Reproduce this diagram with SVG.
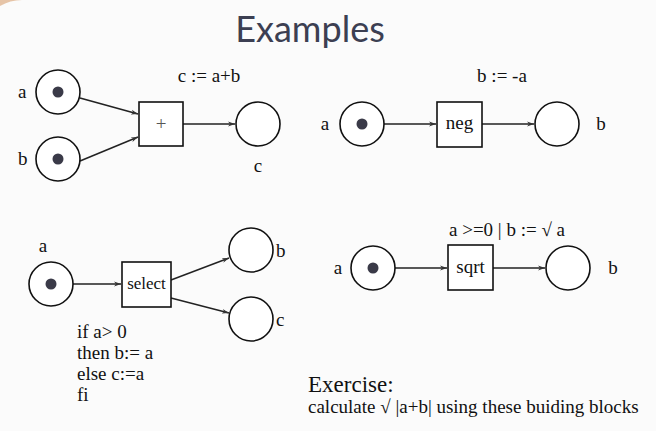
<svg xmlns="http://www.w3.org/2000/svg" width="656" height="431" viewBox="0 0 656 431">
<defs>
<style>
.pl{fill:#fff;stroke:#111;stroke-width:1.6}
.tk{fill:#3a3a48}
.tr{fill:#fff;stroke:#111;stroke-width:1.6}
.e{stroke:#222;stroke-width:1.5;fill:none;marker-end:url(#ah)}
</style>
<marker id="ah" viewBox="0 0 10 10" refX="10" refY="5" markerWidth="7" markerHeight="7" orient="auto" markerUnits="userSpaceOnUse">
<path d="M0,1.5 L10,5 L0,8.5 L3,5 Z" fill="#333"/>
</marker>
</defs>
<rect width="656" height="431" fill="#fbfbfb"/>
<path d="M0,6 Q10,0 22,0 L0,0 Z" fill="#d9a070" opacity="0.6"/>
<text x="310" y="42" text-anchor="middle" font-family="Lato" font-size="36" fill="#3c3f52">Examples</text>

<g id="connectors">
<line class="e" x1="80" y1="98" x2="138" y2="114"/>
<line class="e" x1="80" y1="161" x2="138" y2="137"/>
<line class="e" x1="183" y1="124" x2="235" y2="124"/>
<line class="e" x1="384" y1="124" x2="436" y2="124"/>
<line class="e" x1="482" y1="124" x2="534" y2="124"/>
<line class="e" x1="73" y1="284" x2="121" y2="284"/>
<line class="e" x1="171" y1="280" x2="229" y2="258"/>
<line class="e" x1="171" y1="298" x2="229" y2="313"/>
<line class="e" x1="395" y1="268" x2="447" y2="268"/>
<line class="e" x1="493" y1="268" x2="545" y2="268"/>
</g>

<g font-family="Liberation Serif" font-size="19" fill="#111">
<g id="ex1-a"><circle class="pl" cx="58" cy="92" r="22"/><circle class="tk" cx="58" cy="92" r="5.5"/><text x="18" y="98">a</text></g>
<g id="ex1-b"><circle class="pl" cx="58" cy="159" r="22"/><circle class="tk" cx="58" cy="159" r="5.5"/><text x="18" y="165">b</text></g>
<g id="ex1-plus"><rect class="tr" x="139" y="102" width="44" height="44"/><text x="161" y="130" text-anchor="middle" fill="#555">+</text><text x="209" y="82" text-anchor="middle">c := a+b</text></g>
<g id="ex1-c"><circle class="pl" cx="258" cy="124" r="22"/><text x="258" y="172" text-anchor="middle">c</text></g>

<g id="ex2-a"><circle class="pl" cx="362" cy="124" r="22"/><circle class="tk" cx="362" cy="124" r="5.5"/><text x="325" y="130" text-anchor="middle">a</text></g>
<g id="ex2-neg"><rect class="tr" x="437" y="102" width="45" height="45"/><text x="459.5" y="129" text-anchor="middle">neg</text><text x="502" y="82" text-anchor="middle">b := -a</text></g>
<g id="ex2-b"><circle class="pl" cx="557" cy="124" r="22"/><text x="601" y="130" text-anchor="middle">b</text></g>

<g id="ex3-a"><circle class="pl" cx="51" cy="284" r="22"/><circle class="tk" cx="51" cy="284" r="5.5"/><text x="43" y="252" text-anchor="middle">a</text></g>
<g id="ex3-select"><rect class="tr" x="122" y="262" width="49" height="45"/><text x="146.5" y="289" text-anchor="middle" font-size="17">select</text>
<text x="77" y="338">if a&gt; 0</text>
<text x="77" y="359">then b:= a</text>
<text x="77" y="380">else c:=a</text>
<text x="77" y="401">fi</text></g>
<g id="ex3-b"><circle class="pl" cx="251" cy="250" r="22"/><text x="276" y="257">b</text></g>
<g id="ex3-c"><circle class="pl" cx="251" cy="319" r="22"/><text x="276" y="326">c</text></g>

<g id="ex4-a"><circle class="pl" cx="373" cy="268" r="22"/><circle class="tk" cx="373" cy="268" r="5.5"/><text x="338" y="274" text-anchor="middle">a</text></g>
<g id="ex4-sqrt"><rect class="tr" x="448" y="245" width="45" height="45"/><text x="470.5" y="273" text-anchor="middle">sqrt</text><text x="507" y="236" text-anchor="middle">a &gt;=0 | b := √ a</text></g>
<g id="ex4-b"><circle class="pl" cx="568" cy="268" r="22"/><text x="613" y="274" text-anchor="middle">b</text></g>

<g id="exercise">
<text x="308" y="392" font-size="23">Exercise:</text>
<text x="308" y="413" font-size="19">calculate √ |a+b| using these buiding blocks</text>
</g>
</g>
</svg>
